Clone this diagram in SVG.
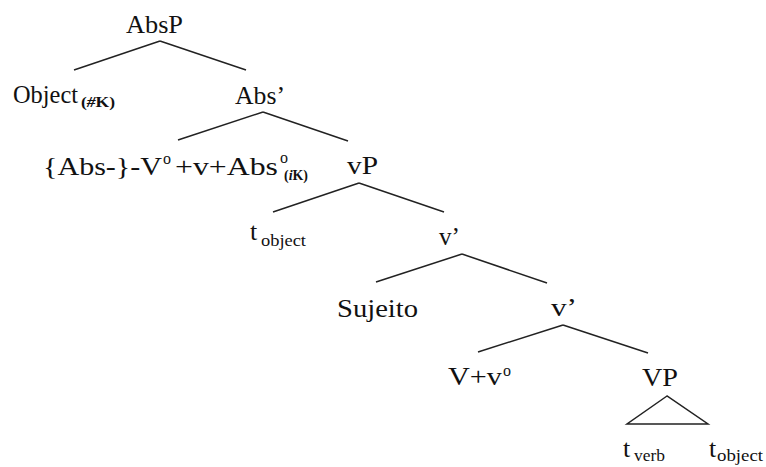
<svg xmlns="http://www.w3.org/2000/svg" width="766" height="467" viewBox="0 0 766 467">
<style>
  text { font-family: "Liberation Serif", "Times New Roman", serif; font-size: 26px; fill: #111; }
  .sub { font-size: 17px; }
  .sb { font-size: 15px; font-weight: bold; }
  .sup { font-size: 16px; }
  .edge { stroke: #222; stroke-width: 1.5; fill: none; }
</style>
<rect width="766" height="467" fill="#fff"/>
<g id="connectors">
  <line class="edge" x1="160" y1="41" x2="74" y2="70"/>
  <line class="edge" x1="160" y1="41" x2="246" y2="70"/>
  <line class="edge" x1="263" y1="112" x2="178" y2="140"/>
  <line class="edge" x1="263" y1="112" x2="348" y2="141"/>
  <line class="edge" x1="359" y1="183" x2="273" y2="212"/>
  <line class="edge" x1="359" y1="183" x2="444" y2="212"/>
  <line class="edge" x1="462" y1="254" x2="376" y2="282"/>
  <line class="edge" x1="462" y1="254" x2="547" y2="283"/>
  <line class="edge" x1="563" y1="325" x2="478" y2="352"/>
  <line class="edge" x1="563" y1="325" x2="648" y2="353"/>
  <polygon class="edge" points="667,396 627,424 708,424"/>
</g>
<g id="absp"><text x="126" y="33" textLength="57" lengthAdjust="spacingAndGlyphs">AbsP</text></g>
<g id="object">
  <text x="13" y="103" textLength="65" lengthAdjust="spacingAndGlyphs">Object</text>
  <text class="sb" x="81" y="107" textLength="34" lengthAdjust="spacingAndGlyphs">(<tspan font-style="italic">#</tspan>K)</text>
</g>
<g id="absbar"><text x="235" y="104" textLength="50" lengthAdjust="spacingAndGlyphs">Abs’</text></g>
<g id="abshead">
  <text x="43" y="175" textLength="119" lengthAdjust="spacingAndGlyphs">{Abs-}-V</text>
  <text class="sup" x="163" y="164">o</text>
  <text x="175" y="175" textLength="103" lengthAdjust="spacingAndGlyphs">+v+Abs</text>
  <text class="sup" x="280" y="163">o</text>
  <text class="sb" x="284" y="180" textLength="24" lengthAdjust="spacingAndGlyphs">(<tspan font-style="italic">i</tspan>K)</text>
</g>
<g id="vp"><text x="347" y="174" textLength="31" lengthAdjust="spacingAndGlyphs">vP</text></g>
<g id="tobject1">
  <text x="250" y="240">t</text>
  <text class="sub" x="261" y="246" textLength="45" lengthAdjust="spacingAndGlyphs">object</text>
</g>
<g id="vbar1"><text x="439" y="245" textLength="21" lengthAdjust="spacingAndGlyphs">v’</text></g>
<g id="sujeito"><text x="337" y="317" textLength="81" lengthAdjust="spacingAndGlyphs">Sujeito</text></g>
<g id="vbar2"><text x="551" y="316" textLength="26" lengthAdjust="spacingAndGlyphs">v’</text></g>
<g id="vv">
  <text x="448" y="385" textLength="54" lengthAdjust="spacingAndGlyphs">V+v</text>
  <text class="sup" x="503" y="376">o</text>
</g>
<g id="VP"><text x="642" y="386" textLength="36" lengthAdjust="spacingAndGlyphs">VP</text></g>
<g id="tverb">
  <text x="623" y="457">t</text>
  <text class="sub" x="634" y="461" textLength="31" lengthAdjust="spacingAndGlyphs">verb</text>
</g>
<g id="tobject2">
  <text x="709" y="457">t</text>
  <text class="sub" x="717" y="461" textLength="46" lengthAdjust="spacingAndGlyphs">object</text>
</g>
</svg>
